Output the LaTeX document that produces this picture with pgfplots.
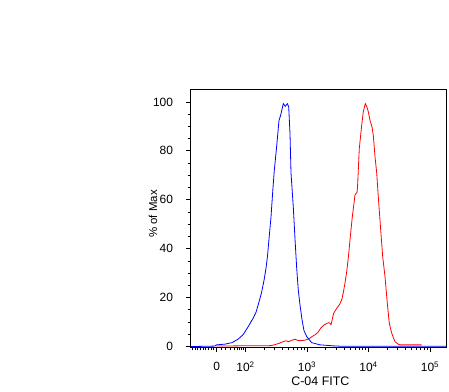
\documentclass[border=0pt]{standalone}
\usepackage{pgfplots}
\pgfplotsset{compat=1.18}
\usepackage{fontspec}
\setmainfont{Liberation Sans}
\begin{document}
\begin{tikzpicture}
\useasboundingbox (0bp,0bp) rectangle (449bp,392bp);
\begin{axis}[
  at={(190.5bp,44.7bp)}, anchor=south west,
  scale only axis, width=256.2bp, height=257.6bp,
  xmin=190.5, xmax=446.7, ymin=-0.3, ymax=105,
  axis line style={black, line width=1bp},
  tick align=outside, tick pos=left,
  major tick length=5bp, minor tick length=3bp,
  every tick/.style={black, line width=0.8bp},
  xtick={216.7,245.5,307,368.5,430},
  xticklabels={0,10\textsuperscript{2},10\textsuperscript{3},10\textsuperscript{4},10\textsuperscript{5}},
  minor xtick={192.3,195,197.7,200.3,203,205.7,208.3,211,213.7,
    221,225.7,230,234.3,237,239,241,243,
    264.0,274.8,282.5,288.5,293.4,297.5,301.0,304.2,
    325.5,336.3,344.0,350.0,354.9,359.0,362.5,365.7,
    387.0,397.8,405.5,411.5,416.4,420.5,424.0,427.2},
  ytick={0,20,40,60,80,100},
  minor ytick={5,10,15,25,30,35,45,50,55,65,70,75,85,90,95},
  /pgf/number format/assume math mode=true,
  tick label style={font=\fontsize{12}{13}\selectfont},
  xticklabel style={yshift=-6bp},
  yticklabel style={xshift=-9bp},
  xlabel={C-04 FITC}, ylabel={\% of Max},
  label style={font=\fontsize{11.5}{12}\selectfont},
  xlabel style={at={(axis description cs:0.507,-0.131)}, anchor=center, font=\fontsize{12.5}{13}\selectfont},
  ylabel style={at={(axis description cs:-0.146,0.517)}, anchor=center},
  clip=false,
]
\addplot[red, line width=0.8bp] coordinates {
(216.5,0.2) (240,0.3) (265,0.3) (271,0.4) (275,0.8) (279,1.3) (283,2.0) (286,2.4)
(288.5,2.0) (292,2.6) (295,3.0) (298,2.5) (300,2.4) (305,2.6) (309,3.2) (312,4.1)
(315,4.8) (318,5.8) (321,7.7) (324,8.8) (327,9.5) (329,9.8) (331,9.0) (332,10.5)
(333.5,13.5) (336.5,15.5) (340,17.5) (342,19.5) (343.5,22.5) (345,26) (346.7,30.6)
(348.5,37) (350,43.6) (352.3,53) (355,62) (357,63) (357.5,65) (359.3,81) (361.7,90.5)
(363.3,96) (365.3,99.3) (366.7,98.2) (368.3,96) (370,92.5) (372,89.8) (373.3,86.4)
(375,77.6) (376.7,71) (378.3,61.2) (380.7,47.6) (382.7,36.7) (385,28.6) (387.3,17.7)
(389.3,9.5) (391.7,5.5) (393.5,3.5) (395,2.0) (398,1.0) (400,0.7) (421.7,0.7)
};
\addplot[blue, line width=0.8bp] coordinates {
(190.5,0) (215,0.2) (216.5,0.7) (225,1.0) (232,1.6) (238,3.0) (243,4.8) (248,8.0)
(253,11.5) (256,14) (258.5,17.5) (261.5,22) (264,27) (266,32) (267.5,37) (269,44)
(271,53) (273,65) (274.3,72) (276.7,82) (279,92.5) (280.7,94.6) (283.3,99.3) (285.3,98.2)
(287.3,99.3) (288.7,98) (290,87) (291,71) (293.3,57) (295,44) (296.7,32) (298.3,23)
(300,17) (302,11) (304,6.5) (306.7,4.1) (311.7,1.6) (320,0.7) (333,0.3) (340,0.15)
(446,0.15)
};
\end{axis}
\end{tikzpicture}
\end{document}
